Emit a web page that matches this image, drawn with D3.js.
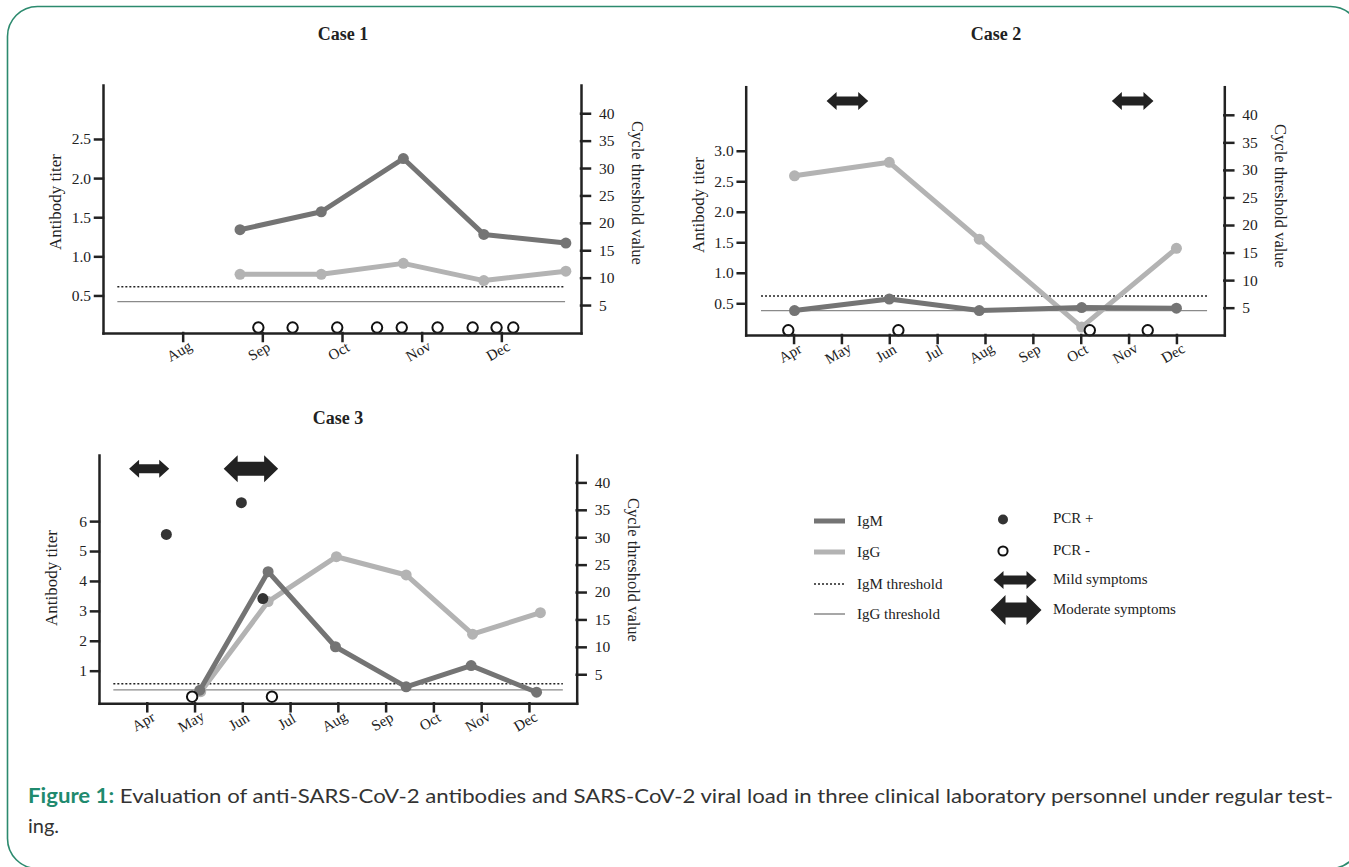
<!DOCTYPE html>
<html>
<head>
<meta charset="utf-8">
<script src="https://cdn.jsdelivr.net/npm/d3@7"></script>
<style>
	body { margin: 0; background: #fff; }
	svg { display: block; }
	.axis path, .axis line { stroke: #222; stroke-width: 2.5; stroke-linecap: square; }
	.axis text { font-family: "Liberation Serif", "Times New Roman", serif; font-size: 15.5px; fill: #222; }
	.lbl { font-family: "Liberation Serif", "Times New Roman", serif; font-size: 15px; fill: #222; }
</style>
</head>
<body>
<div id="chart"></div>
<script>
var monthNames = ["Jan", "Feb", "Mar", "Apr", "May", "Jun", "Jul", "Aug", "Sep", "Oct", "Nov", "Dec"];
var ctTicks = [5, 10, 15, 20, 25, 30, 35, 40];

// case 1 (months as fractional month numbers, 8 = Aug)
var case1Months = [8.72, 9.74, 10.77, 11.78, 12.81];
var case1IgM = [1.34, 1.57, 2.25, 1.28, 1.17];
var case1IgG = [0.77, 0.77, 0.91, 0.69, 0.81];
var case1PcrNeg = [8.95, 9.38, 9.94, 10.44, 10.75, 11.20, 11.64, 11.94, 12.15];
var case1Thresholds = [0.61, 0.42];
var case1YTicks = [0.5, 1.0, 1.5, 2.0, 2.5];
var case1MonthTicks = [8, 9, 10, 11, 12];

// case 2
var case2Months = [4.02, 6.0, 7.88, 10.02, 12.0];
var case2IgM = [0.38, 0.57, 0.38, 0.43, 0.42];
var case2IgG = [2.59, 2.81, 1.55, 0.11, 1.40];
var case2PcrNeg = [3.89, 6.19, 10.19, 11.4];
var case2Mild = [[4.69, 5.56], [10.65, 11.52]];
var case2Thresholds = [0.62, 0.38];
var case2YTicks = [0.5, 1.0, 1.5, 2.0, 2.5, 3.0];
var case2MonthTicks = [4, 5, 6, 7, 8, 9, 10, 11, 12];

// case 3
var case3IgMMonths = [5.11, 6.54, 7.95, 9.43, 10.79, 12.16];
var case3IgM = [0.35, 4.31, 1.80, 0.46, 1.17, 0.28];
var case3IgGMonths = [5.13, 6.54, 7.97, 9.43, 10.82, 12.24];
var case3IgG = [0.30, 3.31, 4.81, 4.20, 2.22, 2.94];
var case3PcrPosMonths = [4.41, 5.98, 6.43];
var case3PcrPosCt = [30.5, 36.3, 18.8];
var case3PcrNeg = [4.95, 6.62];
var case3Mild = [[3.63, 4.47]];
var case3Moderate = [[5.61, 6.75]];
var case3Thresholds = [0.56, 0.36];
var case3YTicks = [1, 2, 3, 4, 5, 6];
var case3MonthTicks = [4, 5, 6, 7, 8, 9, 10, 11, 12];

var pcrNegCt = 0.9;
var arrowCt = 42.5;

var igmColor = "#747474", iggColor = "#b3b3b3";

var svg = d3.select("#chart").append("svg")
	.attr("width", 1349)
	.attr("height", 867);

// rounded frame
svg.append("rect")
	.attr("x", 7.5).attr("y", 6.5)
	.attr("width", 1353).attr("height", 862)
	.attr("rx", 30).attr("ry", 30)
	.attr("fill", "none")
	.attr("stroke", "#2c8a6e")
	.attr("stroke-width", 1.6);

//double headed arrow
function arrowPath(x0, x1, cy, h, sh, hl) {
	return "M" + x0 + "," + cy +
		"L" + (x0 + hl) + "," + (cy - h / 2) +
		"L" + (x0 + hl) + "," + (cy - sh / 2) +
		"L" + (x1 - hl) + "," + (cy - sh / 2) +
		"L" + (x1 - hl) + "," + (cy - h / 2) +
		"L" + x1 + "," + cy +
		"L" + (x1 - hl) + "," + (cy + h / 2) +
		"L" + (x1 - hl) + "," + (cy + sh / 2) +
		"L" + (x0 + hl) + "," + (cy + sh / 2) +
		"L" + (x0 + hl) + "," + (cy + h / 2) + "Z";
}

function drawPanel(p) {
	var x = d3.scaleLinear().domain(p.xDomain).range([p.left, p.right]);
	var yL = d3.scaleLinear().domain(p.yDomain).range([p.bottom, p.top]);
	var yR = d3.scaleLinear().domain(p.ctDomain).range([p.bottom, p.top]);
	var g = svg.append("g");

	g.append("text")
		.attr("class", "lbl")
		.attr("x", p.titleX).attr("y", p.titleY)
		.attr("text-anchor", "middle")
		.style("font-weight", "bold")
		.style("font-size", "18px")
		.text(p.title);

	// threshold lines
	g.append("line")
		.attr("x1", x(p.thrSpan[0])).attr("x2", x(p.thrSpan[1]))
		.attr("y1", yL(p.thresholds[0])).attr("y2", yL(p.thresholds[0]))
		.attr("stroke", "#222").attr("stroke-width", 1.5)
		.attr("stroke-dasharray", "2,2");
	g.append("line")
		.attr("x1", x(p.thrSpan[0])).attr("x2", x(p.thrSpan[1]))
		.attr("y1", yL(p.thresholds[1])).attr("y2", yL(p.thresholds[1]))
		.attr("stroke", "#8a8a8a").attr("stroke-width", 1.2);

	var line = d3.line()
		.x(function(d) { return x(d[0]); })
		.y(function(d) { return yL(d[1]); });

	[[p.iggMonths, p.igg, iggColor], [p.igmMonths, p.igm, igmColor]].forEach(function(s) {
		var pts = s[0].map(function(m, i) { return [m, s[1][i]]; });
		g.append("path")
			.attr("d", line(pts))
			.attr("fill", "none")
			.attr("stroke", s[2])
			.attr("stroke-width", 5)
			.attr("stroke-linejoin", "round");
		g.selectAll(null)
			.data(pts)
			.enter().append("circle")
			.attr("cx", function(d) { return x(d[0]); })
			.attr("cy", function(d) { return yL(d[1]); })
			.attr("r", 5.5)
			.attr("fill", s[2]);
	});

	// pcr results on the Ct axis
	g.selectAll(null)
		.data(p.pcrPosMonths)
		.enter().append("circle")
		.attr("cx", function(d) { return x(d); })
		.attr("cy", function(d, i) { return yR(p.pcrPosCt[i]); })
		.attr("r", 5.5)
		.attr("fill", "#333");
	g.selectAll(null)
		.data(p.pcrNeg)
		.enter().append("circle")
		.attr("cx", function(d) { return x(d); })
		.attr("cy", yR(pcrNegCt))
		.attr("r", 5.2)
		.attr("fill", "#fff")
		.attr("stroke", "#111")
		.attr("stroke-width", 2);

	// symptom arrows
	p.mild.forEach(function(a) {
		g.append("path")
			.attr("d", arrowPath(x(a[0]), x(a[1]), yR(arrowCt), 18, 9, 10))
			.attr("fill", "#222");
	});
	p.moderate.forEach(function(a) {
		g.append("path")
			.attr("d", arrowPath(x(a[0]), x(a[1]), yR(arrowCt), 27, 14, 14))
			.attr("fill", "#222");
	});

	// axes
	g.append("g")
		.attr("class", "axis")
		.attr("transform", "translate(" + p.left + ",0)")
		.call(d3.axisLeft(yL).tickValues(p.yTicks).tickFormat(d3.format(p.yFormat))
			.tickSize(8).tickSizeOuter(0).tickPadding(4));

	g.append("g")
		.attr("class", "axis")
		.attr("transform", "translate(" + p.right + ",0)")
		.call(d3.axisRight(yR).tickValues(ctTicks)
			.tickSize(9).tickSizeOuter(0).tickPadding(9));

	var xAxis = g.append("g")
		.attr("class", "axis")
		.attr("transform", "translate(0," + p.bottom + ")")
		.call(d3.axisBottom(x).tickValues(p.monthTicks)
			.tickFormat(function(m) { return monthNames[m - 1]; })
			.tickSize(8).tickSizeOuter(0));
	xAxis.selectAll("text")
		.attr("y", 0)
		.attr("dy", "0.35em")
		.attr("text-anchor", "middle")
		.style("font-size", "15px")
		.attr("transform", "translate(-4,18) rotate(-30)");

	// axis titles
	g.append("text")
		.attr("class", "lbl")
		.style("font-size", "17px")
		.attr("transform", "translate(" + (p.left - 42) + "," + p.leftLabelY + ") rotate(-90)")
		.attr("text-anchor", "middle")
		.text("Antibody titer");
	g.append("text")
		.attr("class", "lbl")
		.style("font-size", "16.5px")
		.attr("transform", "translate(" + (p.right + 51) + "," + p.rightLabelY + ") rotate(90)")
		.attr("text-anchor", "middle")
		.text("Cycle threshold value");
}

drawPanel({
	title: "Case 1", titleX: 343, titleY: 40,
	left: 103, right: 581, top: 85, bottom: 333,
	xDomain: [7, 13], yDomain: [0.02, 3.19], ctDomain: [-0.1, 45.15],
	yTicks: case1YTicks, yFormat: ".1f", monthTicks: case1MonthTicks,
	igmMonths: case1Months, igm: case1IgM, iggMonths: case1Months, igg: case1IgG,
	pcrPosMonths: [], pcrPosCt: [], pcrNeg: case1PcrNeg,
	mild: [], moderate: [],
	thresholds: case1Thresholds, thrSpan: [7.18, 12.8],
	leftLabelY: 202, rightLabelY: 193
});

drawPanel({
	title: "Case 2", titleX: 996, titleY: 40,
	left: 745.7, right: 1224.3, top: 86.7, bottom: 335,
	xDomain: [3, 13], yDomain: [-0.02, 4.05], ctDomain: [0.04, 45.1],
	yTicks: case2YTicks, yFormat: ".1f", monthTicks: case2MonthTicks,
	igmMonths: case2Months, igm: case2IgM, iggMonths: case2Months, igg: case2IgG,
	pcrPosMonths: [], pcrPosCt: [], pcrNeg: case2PcrNeg,
	mild: case2Mild, moderate: [],
	thresholds: case2Thresholds, thrSpan: [3.32, 12.64],
	leftLabelY: 205, rightLabelY: 196
});

drawPanel({
	title: "Case 3", titleX: 338, titleY: 424,
	left: 99, right: 576.7, top: 455, bottom: 703.3,
	xDomain: [3, 13], yDomain: [-0.09, 8.21], ctDomain: [-0.3, 45.0],
	yTicks: case3YTicks, yFormat: "d", monthTicks: case3MonthTicks,
	igmMonths: case3IgMMonths, igm: case3IgM, iggMonths: case3IgGMonths, igg: case3IgG,
	pcrPosMonths: case3PcrPosMonths, pcrPosCt: case3PcrPosCt, pcrNeg: case3PcrNeg,
	mild: case3Mild, moderate: case3Moderate,
	thresholds: case3Thresholds, thrSpan: [3.3, 12.71],
	leftLabelY: 578, rightLabelY: 570
});

// legend
var legend = svg.append("g");
var leftItems = ["IgM", "IgG", "IgM threshold", "IgG threshold"];
var leftY = [521, 552, 584, 614];
leftItems.forEach(function(t, i) {
	var ln = legend.append("line")
		.attr("x1", 814).attr("x2", 845)
		.attr("y1", leftY[i]).attr("y2", leftY[i]);
	if (i == 0) ln.attr("stroke", igmColor).attr("stroke-width", 5);
	if (i == 1) ln.attr("stroke", iggColor).attr("stroke-width", 5);
	if (i == 2) ln.attr("stroke", "#222").attr("stroke-width", 1.5).attr("stroke-dasharray", "2,2");
	if (i == 3) ln.attr("stroke", "#8a8a8a").attr("stroke-width", 1.5);
	legend.append("text")
		.attr("class", "lbl")
		.attr("x", 857).attr("y", leftY[i])
		.attr("dy", "0.3em")
		.text(t);
});
var rightItems = ["PCR +", "PCR -", "Mild symptoms", "Moderate symptoms"];
var rightY = [518, 550, 579, 609];
legend.append("circle").attr("cx", 1003).attr("cy", 519.5).attr("r", 5).attr("fill", "#333");
legend.append("circle").attr("cx", 1003).attr("cy", 551).attr("r", 4.6)
	.attr("fill", "#fff").attr("stroke", "#111").attr("stroke-width", 2);
legend.append("path").attr("d", arrowPath(993.5, 1036.5, 580, 18, 9, 10)).attr("fill", "#222");
legend.append("path").attr("d", arrowPath(990.5, 1041.5, 610, 30, 15, 15)).attr("fill", "#222");
rightItems.forEach(function(t, i) {
	legend.append("text")
		.attr("class", "lbl")
		.attr("x", 1053).attr("y", rightY[i])
		.attr("dy", "0.3em")
		.text(t);
});

// caption
var cap = svg.append("g")
	.style("font-family", "Lato, 'Open Sans', 'Noto Sans', sans-serif")
	.style("font-size", "20px");
var line1 = cap.append("text")
	.attr("x", 28).attr("y", 803)
	.attr("textLength", 1305)
	.attr("lengthAdjust", "spacingAndGlyphs");
line1.append("tspan")
	.attr("fill", "#1f8a6e")
	.style("font-weight", "bold")
	.text("Figure 1:");
line1.append("tspan")
	.attr("fill", "#333")
	.text(" Evaluation of anti-SARS-CoV-2 antibodies and SARS-CoV-2 viral load in three clinical laboratory personnel under regular test-");
cap.append("text")
	.attr("x", 28).attr("y", 833)
	.attr("fill", "#333")
	.text("ing.");
</script>
</body>
</html>
